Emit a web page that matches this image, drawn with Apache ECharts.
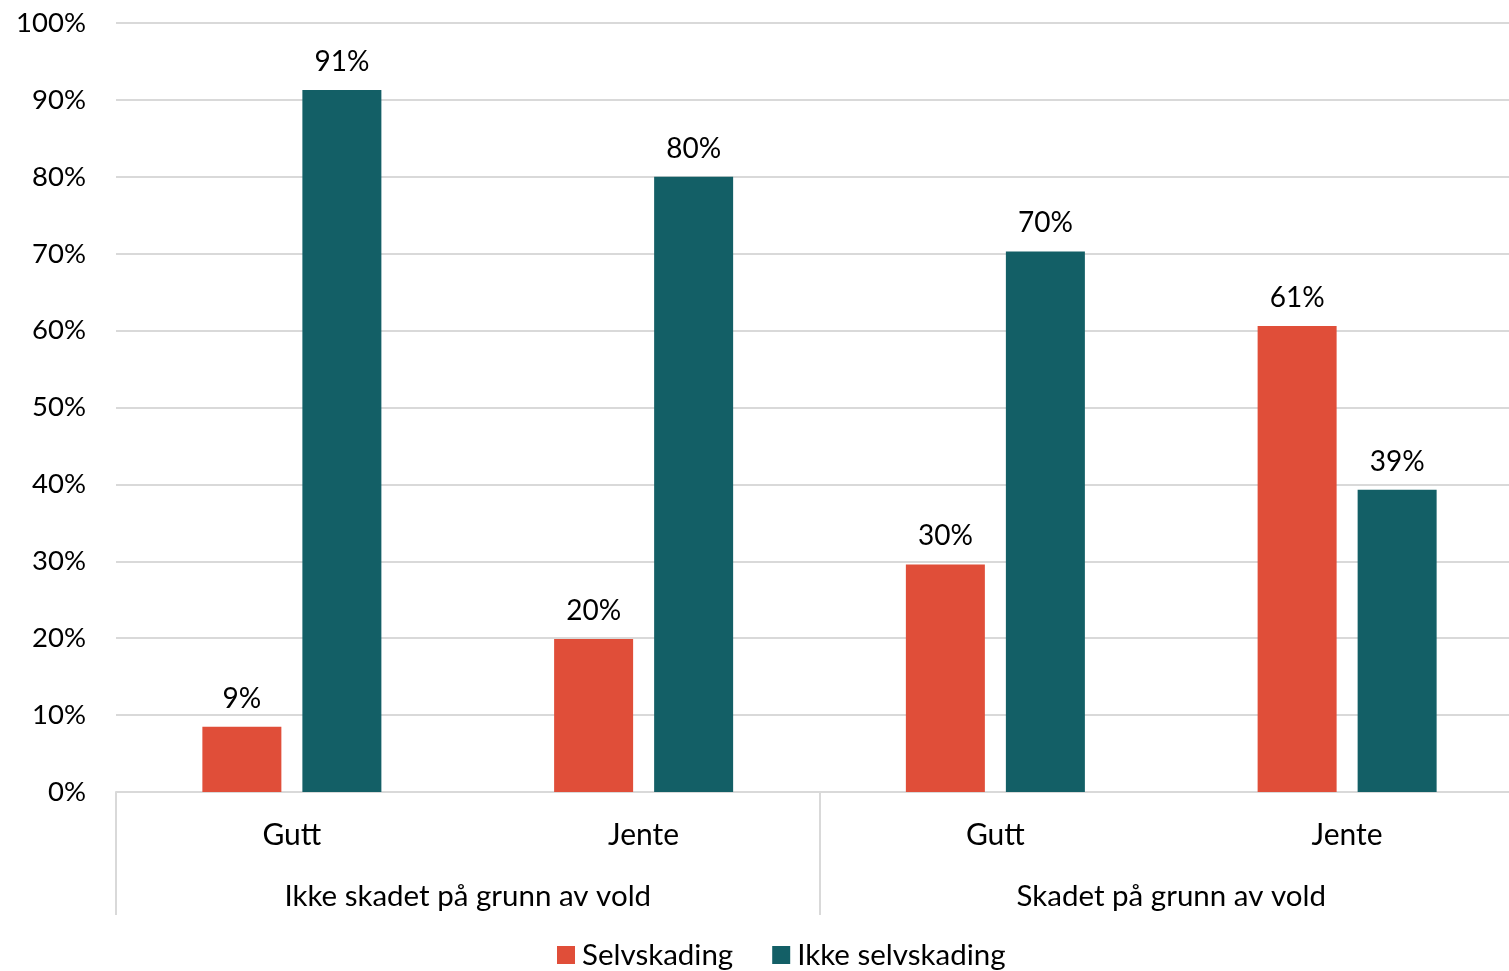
<!DOCTYPE html>
<html>
<head>
<meta charset="utf-8">
<script src="https://cdn.jsdelivr.net/npm/echarts@6/dist/echarts.min.js"></script>
<style>
html,body{margin:0;padding:0;background:#fff;}
#chart{width:1509px;height:971px;}
</style>
</head>
<body>
<div id="chart"></div>
<script>
const categories = ['Gutt', 'Jente', 'Gutt', 'Jente'];
const groups = ['Ikke skadet på grunn av vold', 'Skadet på grunn av vold'];
const seriesNames = ['Selvskading', 'Ikke selvskading'];
const selvskading = [8.5, 19.9, 29.6, 60.6];
const ikkeSelvskading = [91.3, 80.0, 70.3, 39.3];
const yTicks = [0, 10, 20, 30, 40, 50, 60, 70, 80, 90, 100];

const FONT = 'Lato';
const chart = echarts.init(document.getElementById('chart'));
const labelStyle = {
  show: true, position: 'top', distance: 14,
  fontFamily: FONT, fontSize: 28, color: '#000',
  formatter: p => Math.round(p.value) + '%'
};
chart.setOption({
  backgroundColor: '#fff',
  animation: false,
  textStyle: { fontFamily: FONT },
  grid: { left: 116, top: 23, width: 1407, bottom: 179, containLabel: false, outerBoundsMode: 'none' },
  legend: {
    data: seriesNames,
    bottom: 1, left: 557, padding: 0,
    itemWidth: 18, itemHeight: 18, itemGap: 39,
    icon: 'rect',
    textStyle: { fontFamily: FONT, fontSize: 29.5, color: '#000', padding: [0, 0, 0, 2] }
  },
  xAxis: [
    {
      type: 'category', data: categories, position: 'bottom',
      axisLine: { show: true, lineStyle: { color: '#d9d9d9', width: 2 } },
      axisTick: { show: false },
      axisLabel: { fontFamily: FONT, fontSize: 30, color: '#000', margin: 28 }
    },
    {
      type: 'category', data: groups, position: 'bottom',
      axisLine: { show: false },
      axisTick: { show: true, length: 123, interval: 0, lineStyle: { color: '#d9d9d9', width: 2 } },
      axisLabel: { fontFamily: FONT, fontSize: 29.5, color: '#000', margin: 89, interval: 0 }
    }
  ],
  yAxis: {
    type: 'value', min: yTicks[0], max: yTicks[yTicks.length - 1], interval: 10,
    axisLine: { show: false }, axisTick: { show: false },
    axisLabel: { fontFamily: FONT, fontSize: 27.5, color: '#000', margin: 30, formatter: '{value}%' },
    splitLine: { lineStyle: { color: '#d9d9d9', width: 2 } }
  },
  series: [
    { name: seriesNames[0], type: 'bar', xAxisIndex: 0, data: selvskading,
      barWidth: 79, barGap: '26.6%', itemStyle: { color: '#E04E39' }, label: labelStyle },
    { name: seriesNames[1], type: 'bar', xAxisIndex: 0, data: ikkeSelvskading,
      barWidth: 79, barGap: '26.6%', itemStyle: { color: '#135F66' }, label: labelStyle }
  ]
});
</script>
</body>
</html>
